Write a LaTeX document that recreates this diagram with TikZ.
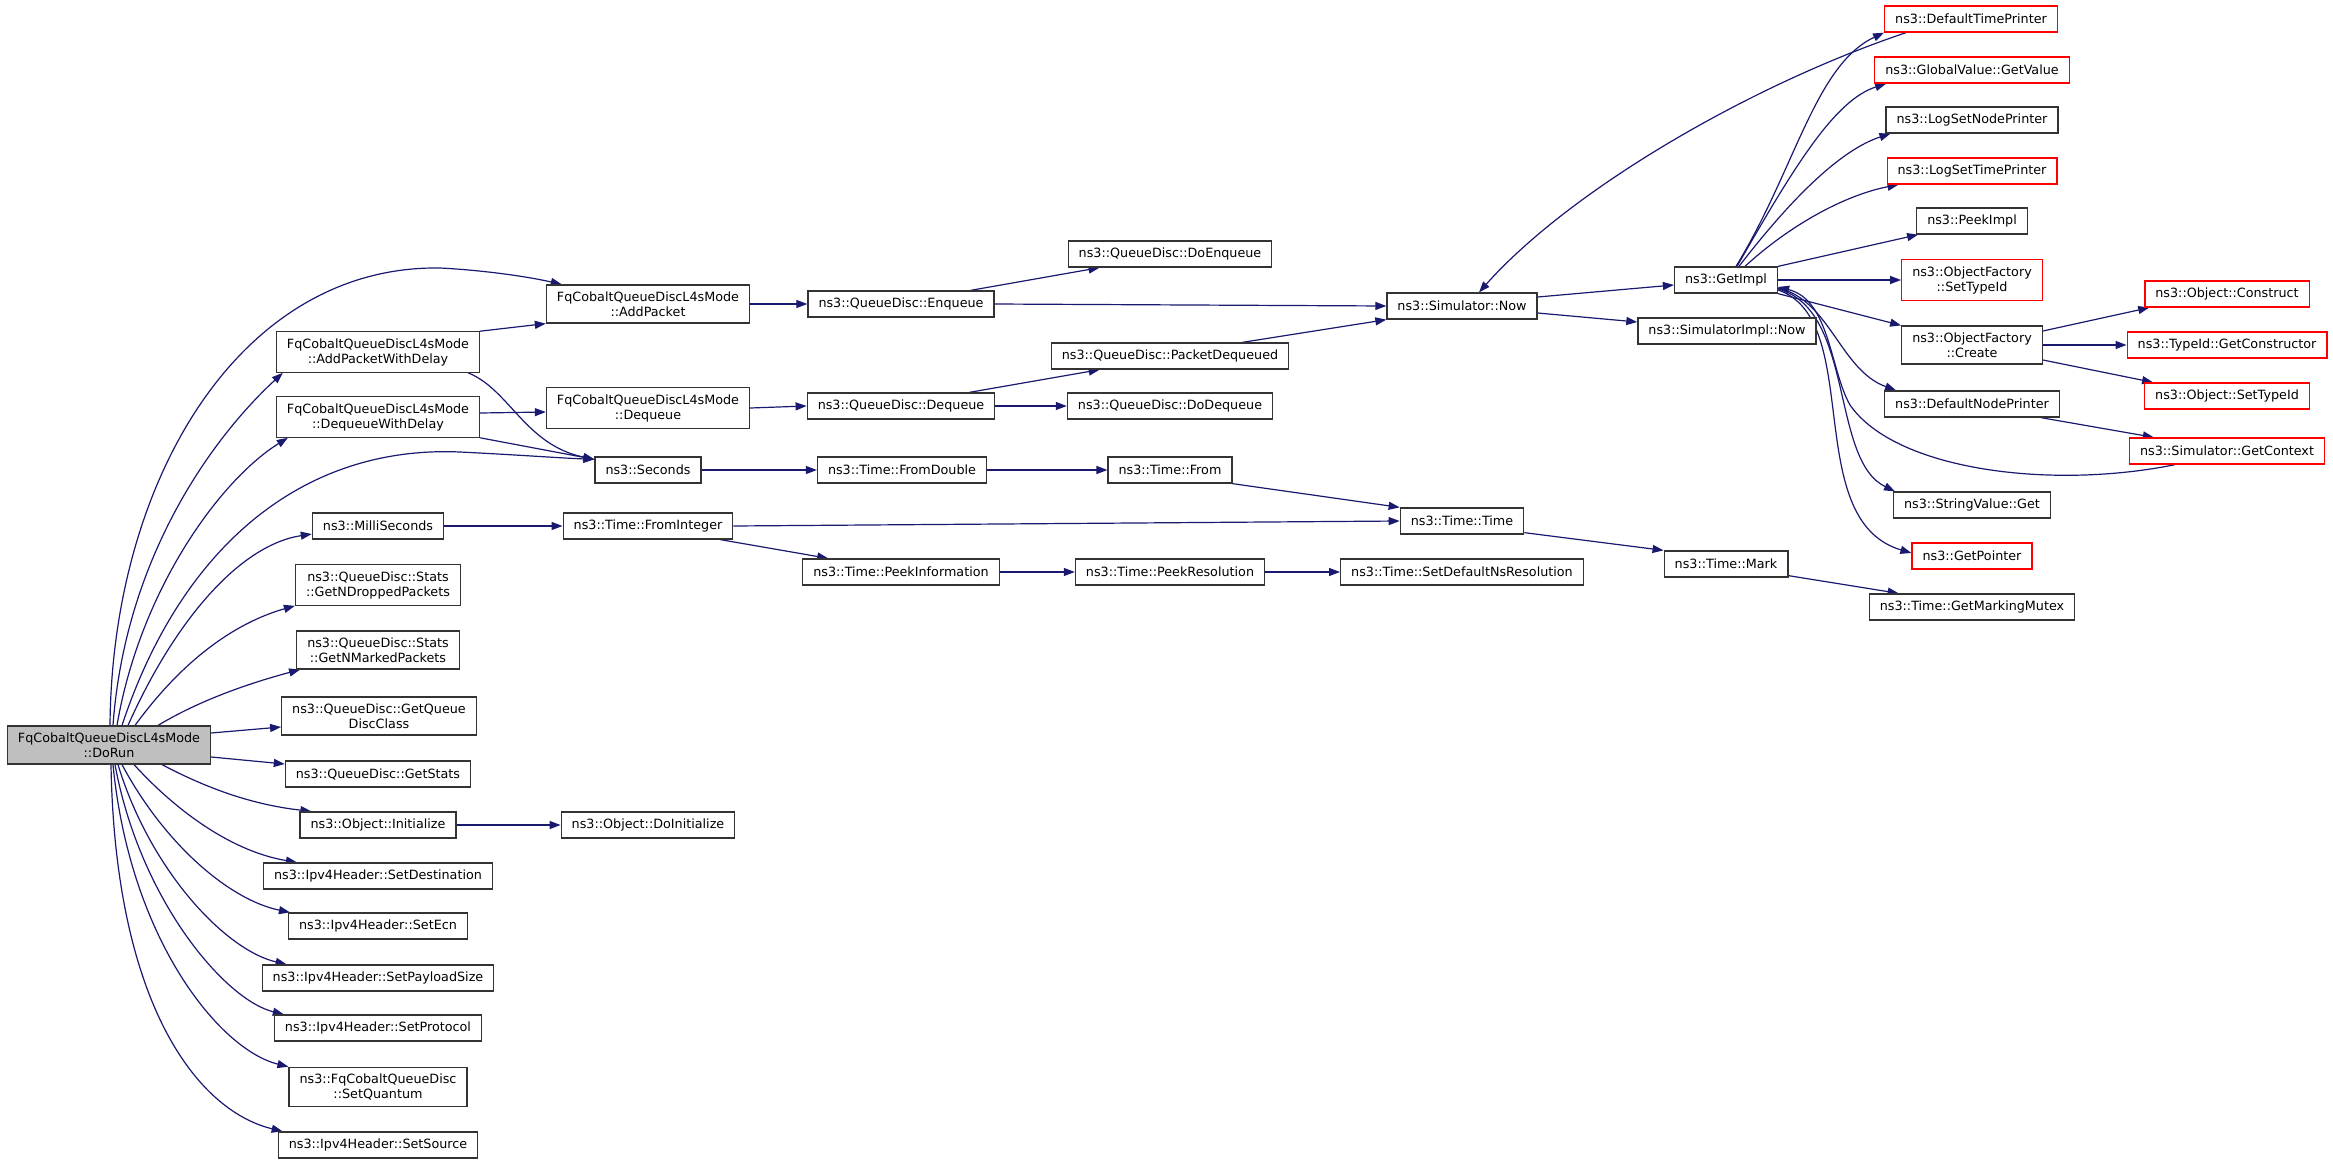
\documentclass[tikz,border=0pt]{standalone}
\usepackage{fontspec}
\setmainfont{DejaVu Sans}
\usepackage{tikz}
\usetikzlibrary{arrows.meta}
\pgfdeclarelayer{edgelayer}
\pgfdeclarelayer{nodelayer}
\pgfsetlayers{edgelayer,nodelayer,main}
\definecolor{edgeblue}{HTML}{191970}
\definecolor{boxgrey}{HTML}{BFBFBF}
\tikzstyle{func}=[draw=black!80, fill=white, line width=1.3pt, inner xsep=10.5pt, inner ysep=6.5pt, minimum height=26pt, align=center, font=\fontsize{12.75pt}{15pt}\selectfont]
\tikzstyle{trunc func}=[func, draw=red]
\tikzstyle{root func}=[func, fill=boxgrey]
\tikzstyle{call edge}=[draw=edgeblue, line width=1.2pt, -{Triangle[length=11pt,width=8pt]}]

\begin{document}
\begin{tikzpicture}[x=1pt, y=-1pt]
	\useasboundingbox (0, 0) rectangle (2333, 1164);
	\begin{pgfonlayer}{nodelayer}
		\node [style=root func] (0) at (109, 745) {FqCobaltQueueDiscL4sMode\\::DoRun};
		\node [style=func] (1) at (648, 304) {FqCobaltQueueDiscL4sMode\\::AddPacket};
		\node [style=func] (2) at (378, 352) {FqCobaltQueueDiscL4sMode\\::AddPacketWithDelay};
		\node [style=func] (3) at (378, 417) {FqCobaltQueueDiscL4sMode\\::DequeueWithDelay};
		\node [style=func] (4) at (648, 408) {FqCobaltQueueDiscL4sMode\\::Dequeue};
		\node [style=func] (5) at (648, 470) {ns3::Seconds};
		\node [style=func] (6) at (378, 526) {ns3::MilliSeconds};
		\node [style=func] (7) at (648, 526) {ns3::Time::FromInteger};
		\node [style=func] (8) at (378, 585) {ns3::QueueDisc::Stats\\::GetNDroppedPackets};
		\node [style=func] (9) at (378, 650) {ns3::QueueDisc::Stats\\::GetNMarkedPackets};
		\node [style=func] (10) at (379, 716) {ns3::QueueDisc::GetQueue\\DiscClass};
		\node [style=func] (11) at (378, 774) {ns3::QueueDisc::GetStats};
		\node [style=func] (12) at (378, 825) {ns3::Object::Initialize};
		\node [style=func] (13) at (648, 825) {ns3::Object::DoInitialize};
		\node [style=func] (14) at (378, 876) {ns3::Ipv4Header::SetDestination};
		\node [style=func] (15) at (378, 926) {ns3::Ipv4Header::SetEcn};
		\node [style=func] (16) at (378, 978) {ns3::Ipv4Header::SetPayloadSize};
		\node [style=func] (17) at (378, 1028) {ns3::Ipv4Header::SetProtocol};
		\node [style=func] (18) at (378, 1087) {ns3::FqCobaltQueueDisc\\::SetQuantum};
		\node [style=func] (19) at (378, 1145) {ns3::Ipv4Header::SetSource};
		\node [style=func] (20) at (901, 304) {ns3::QueueDisc::Enqueue};
		\node [style=func] (21) at (1170, 254) {ns3::QueueDisc::DoEnqueue};
		\node [style=func] (22) at (1170, 356) {ns3::QueueDisc::PacketDequeued};
		\node [style=func] (23) at (901, 406) {ns3::QueueDisc::Dequeue};
		\node [style=func] (24) at (1170, 406) {ns3::QueueDisc::DoDequeue};
		\node [style=func] (25) at (902, 470) {ns3::Time::FromDouble};
		\node [style=func] (26) at (1170, 470) {ns3::Time::From};
		\node [style=func] (27) at (901, 572) {ns3::Time::PeekInformation};
		\node [style=func] (28) at (1170, 572) {ns3::Time::PeekResolution};
		\node [style=func] (29) at (1462, 572) {ns3::Time::SetDefaultNsResolution};
		\node [style=func] (30) at (1462, 306) {ns3::Simulator::Now};
		\node [style=func] (31) at (1462, 521) {ns3::Time::Time};
		\node [style=func] (32) at (1726, 280) {ns3::GetImpl};
		\node [style=func] (33) at (1727, 331) {ns3::SimulatorImpl::Now};
		\node [style=func] (34) at (1726, 564) {ns3::Time::Mark};
		\node [style=trunc func] (35) at (1971, 19) {ns3::DefaultTimePrinter};
		\node [style=trunc func] (36) at (1972, 70) {ns3::GlobalValue::GetValue};
		\node [style=func] (37) at (1972, 120) {ns3::LogSetNodePrinter};
		\node [style=trunc func] (38) at (1972, 171) {ns3::LogSetTimePrinter};
		\node [style=func] (39) at (1972, 221) {ns3::PeekImpl};
		\node [style=trunc func] (40) at (1972, 280) {ns3::ObjectFactory\\::SetTypeId};
		\node [style=func] (41) at (1972, 345) {ns3::ObjectFactory\\::Create};
		\node [style=func] (42) at (1972, 404) {ns3::DefaultNodePrinter};
		\node [style=func] (43) at (1972, 505) {ns3::StringValue::Get};
		\node [style=trunc func] (44) at (1972, 556) {ns3::GetPointer};
		\node [style=func] (45) at (1972, 607) {ns3::Time::GetMarkingMutex};
		\node [style=trunc func] (46) at (2227, 294) {ns3::Object::Construct};
		\node [style=trunc func] (47) at (2227, 345) {ns3::TypeId::GetConstructor};
		\node [style=trunc func] (48) at (2227, 396) {ns3::Object::SetTypeId};
		\node [style=trunc func] (49) at (2227, 451) {ns3::Simulator::GetContext};
	\end{pgfonlayer}
	\begin{pgfonlayer}{edgelayer}
		% calls out of DoRun
		\draw [style=call edge] ([xshift=1pt]0.north) .. controls (112, 480) and (240, 265) .. (440, 268) .. controls (480, 270) and (525, 276) .. ([xshift=16pt]1.north west);
		\draw [style=call edge] ([xshift=4pt]0.north) .. controls (125, 560) and (210, 440) .. ([xshift=7pt]2.south west);
		\draw [style=call edge] ([xshift=8pt]0.north) .. controls (140, 590) and (220, 480) .. ([xshift=12pt]3.south west);
		\draw [style=call edge] ([xshift=13pt]0.north) .. controls (180, 550) and (300, 445) .. (460, 452) .. controls (520, 455) and (560, 458) .. ([yshift=-3pt]5.north west);
		\draw [style=call edge] ([xshift=19pt]0.north) .. controls (175, 620) and (240, 545) .. ([yshift=-8pt]6.west);
		\draw [style=call edge] ([xshift=26pt]0.north) .. controls (190, 650) and (245, 620) .. (8.south west);
		\draw [style=call edge] ([xshift=49pt]0.north) .. controls (200, 700) and (250, 683) .. ([xshift=4pt]9.south west);
		\draw [style=call edge] ([yshift=12pt]0.east) to ([yshift=-11pt]10.west);
		\draw [style=call edge] ([yshift=-12pt]0.east) to ([yshift=10pt]11.west);
		\draw [style=call edge] ([xshift=53pt]0.south) .. controls (210, 790) and (255, 805) .. ([xshift=12pt]12.north west);
		\draw [style=call edge] ([xshift=25pt]0.south) .. controls (180, 815) and (235, 852) .. ([xshift=34pt]14.north west);
		\draw [style=call edge] ([xshift=13pt]0.south) .. controls (165, 845) and (230, 900) .. ([xshift=2pt]15.north west);
		\draw [style=call edge] ([xshift=9pt]0.south) .. controls (150, 870) and (225, 950) .. ([xshift=25pt]16.north west);
		\draw [style=call edge] ([xshift=6pt]0.south) .. controls (140, 900) and (225, 1000) .. ([xshift=10pt]17.north west);
		\draw [style=call edge] ([xshift=4pt]0.south) .. controls (130, 940) and (220, 1050) .. (18.north west);
		\draw [style=call edge] ([xshift=2pt]0.south) .. controls (115, 1000) and (195, 1110) .. ([xshift=5pt]19.north west);
		% second column
		\draw [style=call edge] (2.north east) to (1.south west);
		\draw [style=call edge] ([xshift=-12pt]2.south east) .. controls (510, 390) and (525, 445) .. ([yshift=-3pt]5.north west);
		\draw [style=call edge] ([yshift=4pt]3.east) to ([yshift=-4pt]4.west);
		\draw [style=call edge] (3.south east) to ([yshift=-3pt]5.north west);
		\draw [style=call edge] (1.east) to (20.west);
		\draw [style=call edge] (4.east) to (23.west);
		\draw [style=call edge] (5.east) to (25.west);
		\draw [style=call edge] (6.east) to (7.west);
		\draw [style=call edge] (12.east) to (13.west);
		% queue disc and time
		\draw [style=call edge] ([xshift=-24pt]20.north east) to ([xshift=32pt]21.south west);
		\draw [style=call edge] (20.east) to (30.west);
		\draw [style=call edge] ([xshift=-26pt]23.north east) to ([xshift=49pt]22.south west);
		\draw [style=call edge] (23.east) to (24.west);
		\draw [style=call edge] ([xshift=-47pt]22.north east) to (30.south west);
		\draw [style=call edge] (25.east) to (26.west);
		\draw [style=call edge] (26.south east) to (31.north west);
		\draw [style=call edge] (7.east) to (31.west);
		\draw [style=call edge] ([xshift=-13pt]7.south east) to ([xshift=26pt]27.north west);
		\draw [style=call edge] (27.east) to (28.west);
		\draw [style=call edge] (28.east) to (29.west);
		\draw [style=call edge] ([yshift=2pt]31.south east) to (34.north west);
		\draw [style=call edge] ([yshift=2pt]34.south east) to ([xshift=30pt]45.north west);
		% simulator
		\draw [style=call edge] ([yshift=9pt]30.east) to ([yshift=-5pt]32.west);
		\draw [style=call edge] ([yshift=-7pt]30.east) to ([yshift=9pt]33.west);
		\draw [style=call edge] ([xshift=22pt]35.south west) .. controls (1750, 85) and (1570, 190) .. ([xshift=17pt]30.north);
		\draw [style=call edge] ([xshift=10pt]32.north) .. controls (1795, 170) and (1815, 65) .. (35.south west);
		\draw [style=call edge] ([xshift=11pt]32.north) .. controls (1795, 165) and (1835, 100) .. ([xshift=12pt]36.south west);
		\draw [style=call edge] ([xshift=13pt]32.north) .. controls (1790, 200) and (1840, 150) .. ([xshift=5pt]37.south west);
		\draw [style=call edge] ([xshift=19pt]32.north) .. controls (1790, 225) and (1845, 195) .. ([xshift=12pt]38.south west);
		\draw [style=call edge] (32.north east) to ([xshift=2pt]39.south west);
		\draw [style=call edge] (32.east) to (40.west);
		\draw [style=call edge] (32.south east) to (41.north west);
		\draw [style=call edge] ([yshift=-8pt]32.east) .. controls (1830, 300) and (1840, 370) .. ([xshift=12pt]42.north west);
		\draw [style=call edge] ([yshift=-9pt]32.east) .. controls (1855, 310) and (1830, 460) .. ([xshift=2pt]43.north west);
		\draw [style=call edge] ([yshift=-10pt]32.east) .. controls (1865, 320) and (1800, 520) .. ([yshift=3pt]44.west);
		\draw [style=call edge] ([xshift=-52pt]49.south) .. controls (2050, 490) and (1895, 470) .. (1850, 405) .. controls (1830, 370) and (1830, 300) .. ([yshift=-7pt]32.east);
		\draw [style=call edge] ([yshift=14pt]41.east) to ([xshift=5pt]46.south west);
		\draw [style=call edge] (41.east) to (47.west);
		\draw [style=call edge] ([yshift=-15pt]41.east) to ([xshift=9pt]48.north west);
		\draw [style=call edge] ([xshift=-19pt]42.south east) to ([xshift=25pt]49.north west);
	\end{pgfonlayer}
\end{tikzpicture}
\end{document}
